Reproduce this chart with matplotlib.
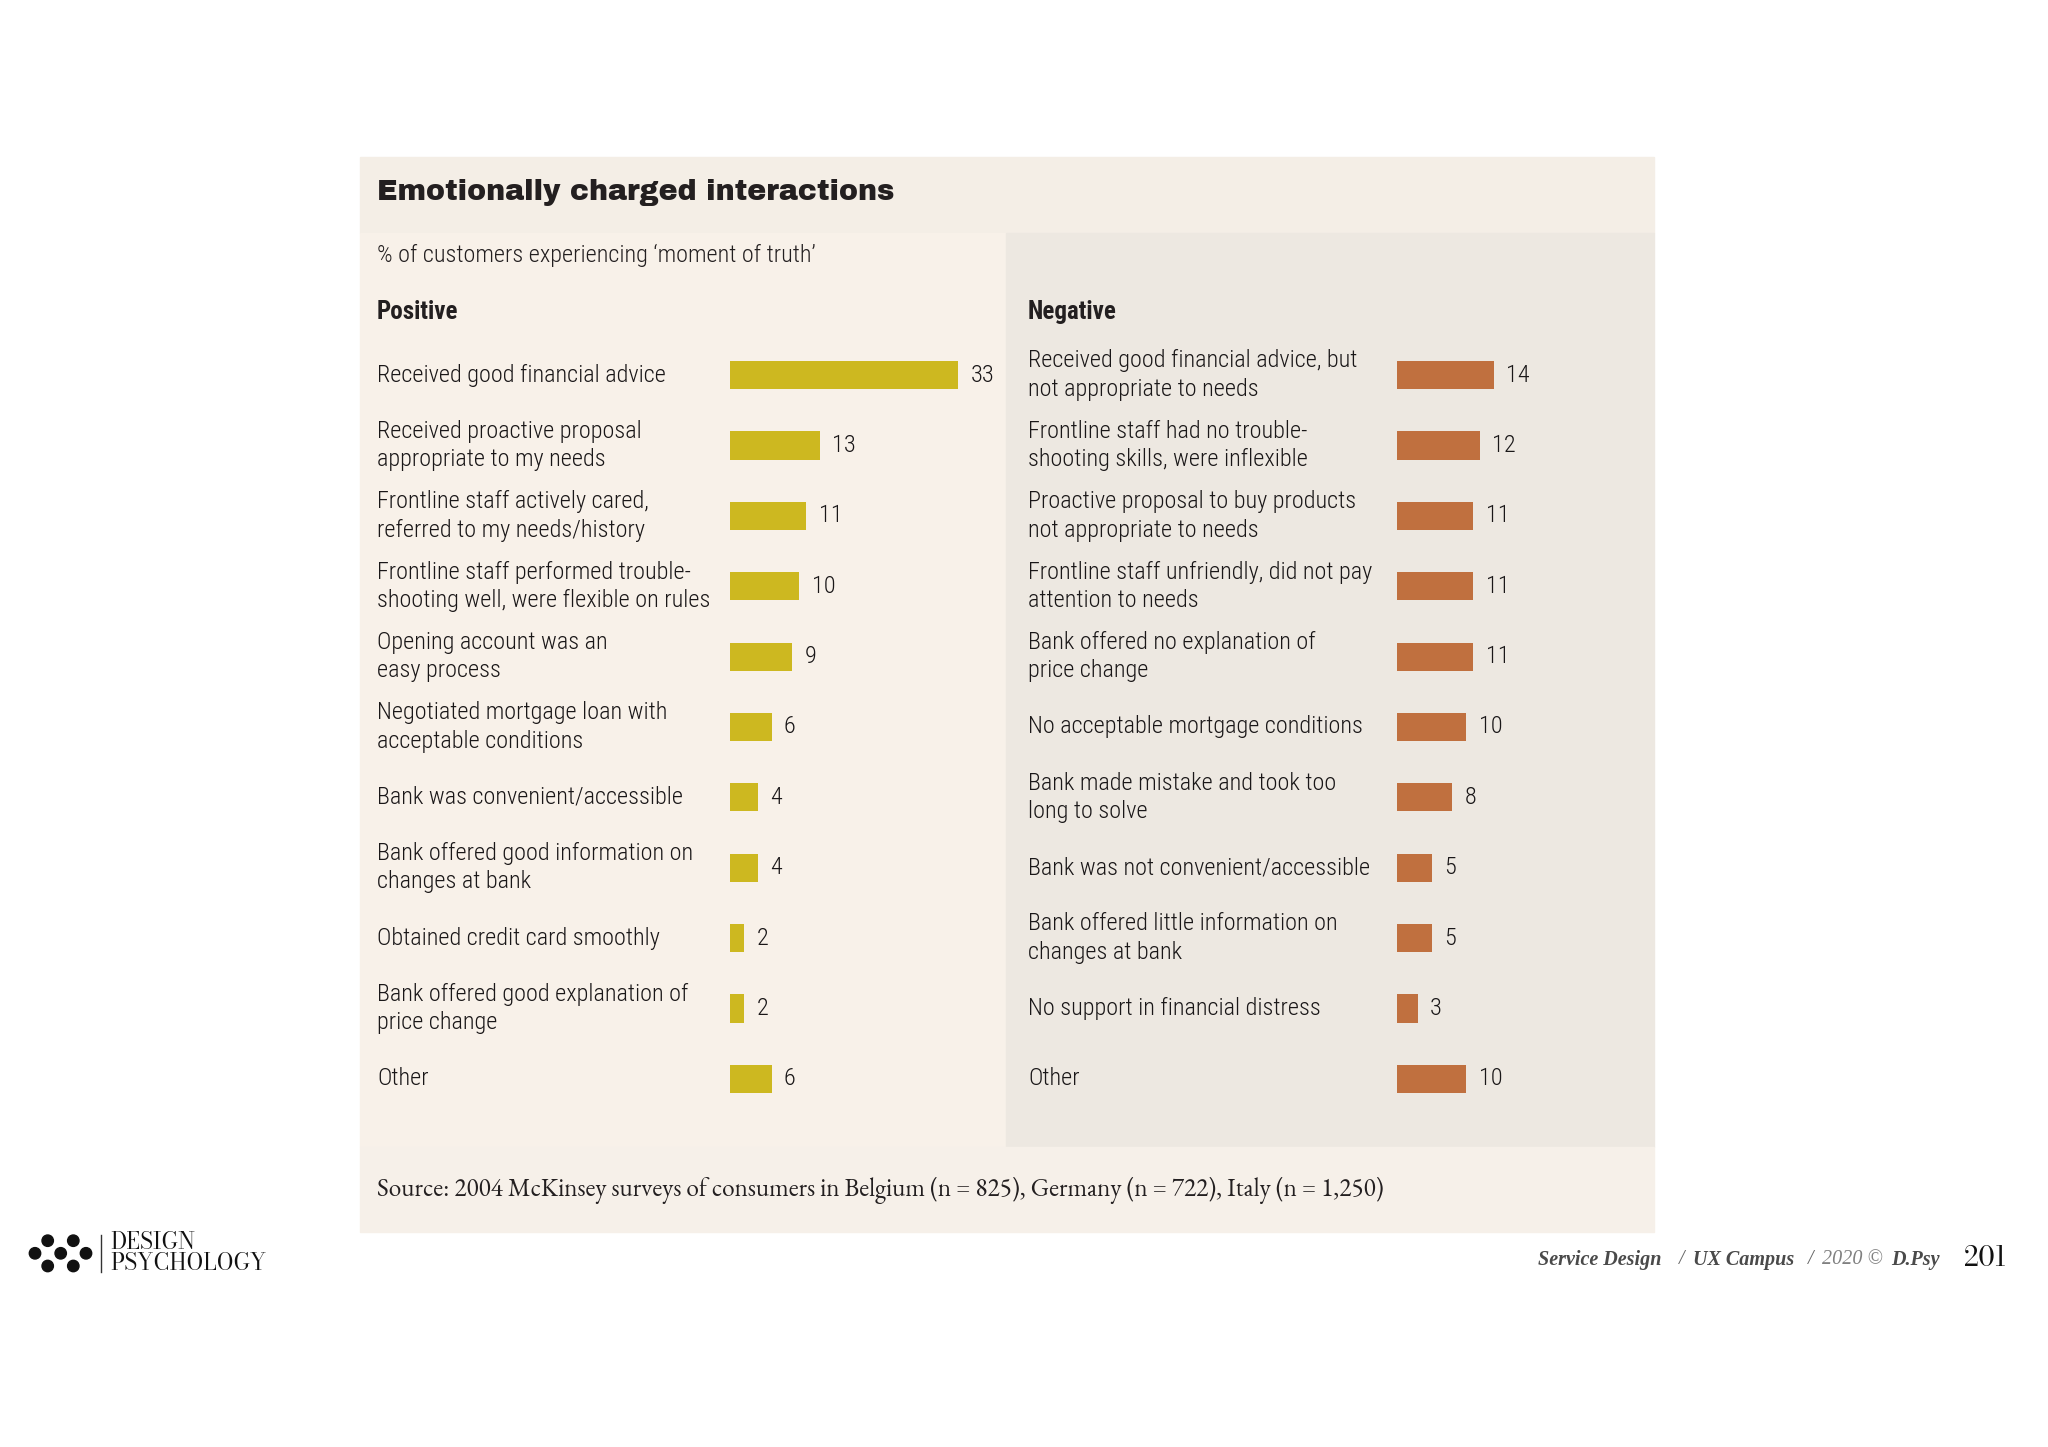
import matplotlib.pyplot as plt
from matplotlib.patches import Rectangle, Ellipse
from matplotlib.transforms import blended_transform_factory

# Data
pos_labels = [
    "Received good financial advice",
    "Received proactive proposal\nappropriate to my needs",
    "Frontline staff actively cared,\nreferred to my needs/history",
    "Frontline staff performed trouble-\nshooting well, were flexible on rules",
    "Opening account was an\neasy process",
    "Negotiated mortgage loan with\nacceptable conditions",
    "Bank was convenient/accessible",
    "Bank offered good information on\nchanges at bank",
    "Obtained credit card smoothly",
    "Bank offered good explanation of\nprice change",
    "Other",
]
pos_values = [33, 13, 11, 10, 9, 6, 4, 4, 2, 2, 6]

neg_labels = [
    "Received good financial advice, but\nnot appropriate to needs",
    "Frontline staff had no trouble-\nshooting skills, were inflexible",
    "Proactive proposal to buy products\nnot appropriate to needs",
    "Frontline staff unfriendly, did not pay\nattention to needs",
    "Bank offered no explanation of\nprice change",
    "No acceptable mortgage conditions",
    "Bank made mistake and took too\nlong to solve",
    "Bank was not convenient/accessible",
    "Bank offered little information on\nchanges at bank",
    "No support in financial distress",
    "Other",
]
neg_values = [14, 12, 11, 11, 11, 10, 8, 5, 5, 3, 10]

W, H = 2048, 1447
COND = ['Roboto Condensed', 'PT Sans Narrow', 'IBM Plex Sans Condensed', 'DejaVu Sans']
HEAVY = ['Archivo Black', 'Roboto', 'DejaVu Sans']
GARA = ['EB Garamond', 'Liberation Serif', 'DejaVu Serif']
CREDIT = ['Liberation Serif', 'DejaVu Serif']
LOGO = ['Bodoni Moda', 'Libre Bodoni', 'Playfair Display', 'Liberation Serif', 'DejaVu Serif']
TXT = '#231f20'

fig = plt.figure(figsize=(W / 100, H / 100), dpi=100)
fig.patch.set_facecolor('white')


def fx(x):
    return x / W


def fy(y):
    return 1 - y / H


def box(x0, y0, x1, y1, color):
    fig.patches.append(Rectangle((fx(x0), fy(y1)), fx(x1) - fx(x0), fy(y0) - fy(y1),
                                 transform=fig.transFigure, color=color, zorder=-10))


# panel backgrounds
box(360, 157, 1654, 233, '#f4eee6')
box(360, 233, 1006, 1147, '#f8f1e9')
box(1006, 233, 1654, 1147, '#ede8e1')
box(360, 1147, 1654, 1232, '#f6f0e9')

fig.text(fx(377), fy(193), "Emotionally charged interactions", fontsize=20.5,
         family=HEAVY, color=TXT, va='center')
fig.text(fx(377), fy(255), "% of customers experiencing \u2018moment of truth\u2019", fontsize=17.5,
         family=COND, fontweight='light', color=TXT, va='center')
fig.text(fx(377), fy(312), "Positive", fontsize=18, fontweight='bold', family=COND, color=TXT, va='center')
fig.text(fx(1028), fy(312), "Negative", fontsize=18, fontweight='bold', family=COND, color=TXT, va='center')


def panel(left_px, label_px, labels, values, color):
    ax = fig.add_axes([fx(left_px), fy(1114), fx(249), (1114 - 340) / H])
    ax.set_xlim(0, 36)
    ax.set_ylim(len(values) - 0.5, -0.5)
    ax.axis('off')
    rows = list(range(len(values)))
    ax.barh(rows, values, height=0.4, color=color)
    tr = blended_transform_factory(fig.transFigure, ax.transData)
    for r, lab, v in zip(rows, labels, values):
        ax.text(fx(label_px), r, lab, transform=tr, fontsize=17.5, family=COND, fontweight='light',
                color='#1a1718', va='center', ha='left', linespacing=1.3)
        ax.text(v + 1.8, r, str(v), fontsize=17.5, family=COND, fontweight='light',
                color='#1a1718', va='center', ha='left')
    return ax


panel(730, 377, pos_labels, pos_values, '#cdb820')
panel(1397, 1028, neg_labels, neg_values, '#c0703f')

fig.text(fx(377), fy(1190),
         "Source: 2004 McKinsey surveys of consumers in Belgium (n = 825), Germany (n = 722), Italy (n = 1,250)",
         fontsize=18.2, family=GARA, color=TXT, va='center')

# footer logo
for cx, cy in [(47.7, 1240.7), (73.3, 1240.7), (35, 1253.3), (60.7, 1253.3),
               (86, 1253.3), (47.7, 1266), (73.3, 1266)]:
    fig.patches.append(Ellipse((fx(cx), fy(cy)), 11.4 / W, 11.4 / H, transform=fig.transFigure,
                               color='#111111', zorder=1))
fig.add_artist(plt.Line2D([fx(100.7), fx(100.7)], [fy(1235), fy(1272)],
                          transform=fig.transFigure, color='#333333', lw=1))
fig.text(fx(110), fy(1243), "DESIGN", fontsize=16, family=LOGO, color='#111111', va='center')
fig.text(fx(110), fy(1264), "PSYCHOLOGY", fontsize=16, family=LOGO, color='#111111', va='center')

# footer credits, placed piece by piece
credits = [
    (1538, "Service Design", 'bold', '#4a4a4a'),
    (1679, "/", 'normal', '#666666'),
    (1693, "UX Campus", 'bold', '#4a4a4a'),
    (1808, "/", 'normal', '#666666'),
    (1822, "2020 \u00a9", 'normal', '#808080'),
    (1891, "D.Psy", 'bold', '#4a4a4a'),
]
for x, s, wt, c in credits:
    fig.text(fx(x), fy(1260), s, fontsize=14.5, family=CREDIT, style='italic', fontweight=wt,
             color=c, ha='left', va='center')
fig.text(fx(1964), fy(1259), "201", fontsize=19, family=LOGO,
         color='#111111', ha='left', va='center')

fig.savefig('out.png', dpi=100)
